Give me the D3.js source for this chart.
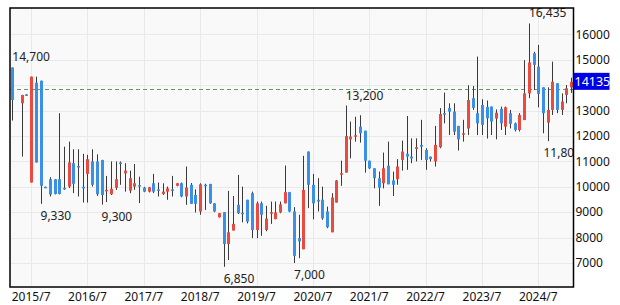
<!DOCTYPE html>
<html>
<head>
  <script src="https://cdnjs.cloudflare.com/ajax/libs/d3/7.8.5/d3.min.js"></script>
  <style>
    body { margin: 0; background: #fff; }
    text { font-family: "Noto Sans", "Open Sans", sans-serif; }
  </style>
</head>
<body>
  <div id="chart"></div>

  <script>
    // monthly candles, 2015/3 .. 2025/2 (2015/4 has no data)
    var months = d3.timeMonth.range(new Date(2015, 2, 1), new Date(2025, 2, 1)).map(d3.timeFormat("%Y/%-m"));

    var opens = [14700,null,13290,13640,10170,14100,14180,10000,10300,10300,
      10300,9960,10010,10930,10820,10000,10510,11000,11000,11060,
      9860,9710,9960,10960,10530,9850,10010,10070,9970,9810,
      10140,9900,9720,9810,9900,10040,10140,9620,10080,9680,
      9030,10080,10110,9350,8800,9000,7750,8280,9290,8980,
      9490,9750,8300,9350,8300,8960,8730,8990,9350,9790,
      9030,7980,7540,11390,10080,9490,9490,9030,8210,9380,
      10500,10560,11870,12000,12370,12210,11030,10730,10340,10140,
      10830,10250,10300,11060,11300,11190,11490,11650,11450,11190,
      11000,11560,12900,13100,12960,12400,12050,12300,13490,12900,
      13225,13150,13160,12690,13070,12370,12900,12500,12240,12630,
      13680,15260,14730,13920,12530,13030,14080,13030,13620,13920];
    var highs = [14700,null,13620,13650,14340,14340,14180,10010,10380,10300,
      12900,11580,11780,11480,11480,11300,11260,11480,11280,11060,
      10430,11000,11000,11000,10930,10640,10900,10400,10000,10000,
      10510,10170,10140,10010,10430,10150,10170,10800,10150,9900,
      10140,10120,10120,9360,8970,9000,9840,9640,10470,10010,
      9490,9810,9420,9420,9250,9420,9420,9420,10840,9800,
      9200,8900,11220,11390,10510,10340,10010,9220,9750,10270,
      11030,13200,12570,12760,12820,12210,11030,10730,10600,11350,
      11780,10600,11090,11820,12790,11910,11910,12640,11520,11190,
      12400,13100,13710,13290,13290,12400,12640,14000,13970,15130,
      13450,13400,13160,13050,13160,13160,13030,12530,12900,14990,
      16435,15320,15590,13920,13920,14930,14080,13680,14010,14300];
    var lows = [12610,null,11190,13590,10170,10960,9330,9970,9620,9700,
      9700,9880,9950,9750,9620,9380,9380,10010,9640,9300,
      9400,9680,9880,10080,9810,9750,9880,9360,9790,9780,
      9750,9620,9680,9490,9620,10020,9590,9290,9330,8990,
      8900,9090,9330,9000,8790,6850,7120,8280,8930,8600,
      8560,7980,7980,8070,8250,8540,8720,8960,9350,9000,
      7000,7190,7540,9160,8720,9030,8700,8370,8210,9380,
      10040,10560,11120,11780,11740,10560,10700,9940,9250,9940,
      10100,9640,10080,10640,10670,10930,11000,11060,10670,11000,
      10800,11520,12500,12040,12040,11430,11780,12040,13030,12040,
      12040,11900,12040,11870,12240,12040,12300,12180,12180,12630,
      13490,13810,13130,12110,11800,12830,12900,12830,13290,13700];
    var closes = [13420,null,13620,13600,14340,10960,10040,9970,9700,9720,
      9720,9940,10960,10120,10780,9980,11090,10080,9710,9680,
      9880,9920,10300,10920,10640,10340,10140,10010,9810,9980,
      9810,9880,9810,9940,9880,10140,9620,9970,9330,9330,
      10100,10050,9350,9030,8960,7750,8210,8540,8960,8960,
      8630,8300,9350,8900,8750,9000,8990,9310,9790,9030,
      7280,7850,9880,10080,9350,9420,8760,8410,9580,10250,
      10540,12000,11980,12030,12110,11030,10730,10340,9970,10730,
      10100,10080,10800,11390,11190,11120,11560,11580,11060,11090,
      11650,12870,12860,12960,12170,11870,12110,13420,13110,12500,
      12440,12700,12570,12920,12500,13130,12480,12240,12830,13680,
      14900,14800,13660,12900,13030,14140,13030,13360,13880,14135];

    // marked extremes: month index, value, side
    var marks = [[0, 14700, "high"], [6, 9330, "low"], [19, 9300, "low"], [45, 6850, "low"],
      [60, 7000, "low"], [71, 13200, "high"], [110, 16435, "high"], [114, 11800, "low"]];

    var yTicks = [7000, 8000, 9000, 10000, 11000, 12000, 13000, 15000, 16000];
    var yGrid = [7000, 8000, 9000, 10000, 11000, 12000, 13000, 14000, 15000, 16000];
    var xTicks = ["2015/7", "2016/7", "2017/7", "2018/7", "2019/7", "2020/7", "2021/7", "2022/7", "2023/7", "2024/7"];
    var refLine = 13850;
    var lastPrice = 14135;

    var W = 620, H = 305;
    var pLeft = 10, pRight = 573.5, pTop = 8, pBottom = 287;

    var svg = d3.select("#chart").append("svg")
      .attr("width", W).attr("height", H);

    var x = d3.scaleBand().domain(months).range([pLeft, pRight]);
    var y = d3.scaleLinear().domain([6055, 17043]).range([pBottom, pTop]);
    var cx = function(i) { return x(months[i]) + x.bandwidth() / 2; };

    svg.append("rect")
      .attr("x", pLeft).attr("y", pTop)
      .attr("width", pRight - pLeft).attr("height", pBottom - pTop)
      .attr("fill", "#f9f9f9");

    svg.append("defs").append("clipPath").attr("id", "plotClip")
      .append("rect")
      .attr("x", pLeft).attr("y", pTop)
      .attr("width", pRight - pLeft).attr("height", pBottom - pTop);

    // grid
    svg.append("g").selectAll("line")
      .data(yGrid).enter().append("line")
      .attr("x1", pLeft).attr("x2", pRight)
      .attr("y1", d => Math.round(y(d)) + 0.5).attr("y2", d => Math.round(y(d)) + 0.5)
      .attr("stroke", "#e9e9e9");

    svg.append("g").selectAll("line")
      .data(xTicks).enter().append("line")
      .attr("x1", d => Math.round(x(d) + x.bandwidth() / 2) + 0.5)
      .attr("x2", d => Math.round(x(d) + x.bandwidth() / 2) + 0.5)
      .attr("y1", pTop).attr("y2", pBottom)
      .attr("stroke", "#e9e9e9");

    // reference line
    svg.append("line")
      .attr("x1", pLeft).attr("x2", pRight)
      .attr("y1", Math.round(y(refLine)) + 0.5).attr("y2", Math.round(y(refLine)) + 0.5)
      .attr("stroke", "#5f9a5f").attr("stroke-width", 1.2)
      .attr("stroke-dasharray", "4,3");

    var idx = d3.range(months.length).filter(i => opens[i] != null);

    var g = svg.append("g").attr("clip-path", "url(#plotClip)");

    g.selectAll("line.wick")
      .data(idx).enter().append("line")
      .attr("class", "wick")
      .attr("x1", i => Math.round(cx(i)) + 0.5).attr("x2", i => Math.round(cx(i)) + 0.5)
      .attr("y1", i => y(highs[i])).attr("y2", i => y(lows[i]))
      .attr("stroke", "#3a3a3a").attr("stroke-width", 1);

    g.selectAll("rect.body")
      .data(idx).enter().append("rect")
      .attr("class", "body")
      .attr("x", i => Math.round(cx(i)) - 1)
      .attr("width", 3)
      .attr("y", i => y(Math.max(opens[i], closes[i])))
      .attr("height", i => Math.max(1.5, Math.abs(y(opens[i]) - y(closes[i]))))
      .attr("fill", i => closes[i] >= opens[i] ? "#ea4a40" : "#3b8fe6");

    // extreme labels, clipped by the plot frame like the original
    g.selectAll("text")
      .data(marks).enter().append("text")
      .attr("x", d => Math.min(cx(d[0]), pRight - 30))
      .attr("y", d => d[2] == "high" ? y(d[1]) - 6 : y(d[1]) + 16)
      .attr("font-size", 12).attr("fill", "#222")
      .text(d => d3.format(",")(d[1]));

    // frame
    svg.append("rect")
      .attr("x", pLeft).attr("y", pTop)
      .attr("width", pRight - pLeft).attr("height", pBottom - pTop)
      .attr("fill", "none").attr("stroke", "#000").attr("stroke-width", 1.5);

    // y labels
    svg.append("g").selectAll("text")
      .data(yTicks).enter().append("text")
      .attr("x", pRight + 2).attr("y", d => y(d))
      .attr("dy", "0.35em")
      .attr("font-size", 12).attr("fill", "#111")
      .text(d => d);

    // x labels
    svg.append("g").selectAll("text")
      .data(xTicks).enter().append("text")
      .attr("x", d => x(d) + x.bandwidth() / 2).attr("y", 301)
      .attr("text-anchor", "middle")
      .attr("font-size", 12).attr("fill", "#111")
      .text(d => d);

    // last price tag
    svg.append("rect")
      .attr("x", pRight).attr("y", y(lastPrice) - 9)
      .attr("width", 36).attr("height", 17)
      .attr("fill", "#0000e6");
    svg.append("text")
      .attr("x", pRight + 1).attr("y", y(lastPrice))
      .attr("dy", "0.36em")
      .attr("font-size", 12.5).attr("fill", "#fff")
      .text(lastPrice);
  </script>
</body>
</html>
